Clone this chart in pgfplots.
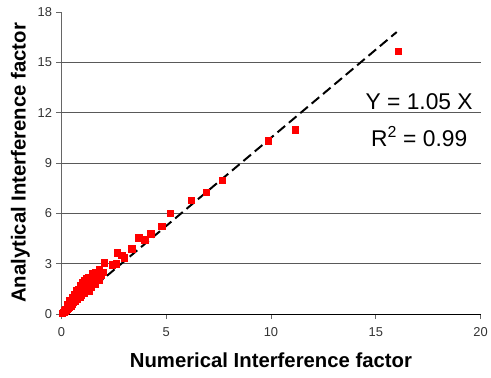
\documentclass[border=0pt]{standalone}
\usepackage{pgfplots}
\pgfplotsset{compat=1.18}
\usepackage{fontspec}
\setmainfont{Liberation Sans}
\begin{document}
\begin{tikzpicture}
\begin{axis}[
  scale only axis,
  width=423pt, height=305pt,
  xmin=0, xmax=20, ymin=0, ymax=18,
  xtick={0,5,...,20}, ytick={0,3,...,18},
  axis x line=bottom, axis y line=left,
  x axis line style={-, black, line width=0.9pt},
  y axis line style={-, gray!80!black, line width=0.9pt},
  tick align=outside,
  major tick length=5pt,
  tick style={gray!80!black, line width=0.7pt},
  /pgf/number format/assume math mode=true,
  ticklabel style={font=\fontsize{13}{15}\selectfont, text=black!80},
  xticklabel style={yshift=-5pt},
  yticklabel style={xshift=-1pt},
  extra y ticks={3,6,9,12,15},
  extra y tick labels={},
  extra y tick style={grid=major, major tick length=0pt},
  grid style={gray!70!black, line width=0.8pt},
  xlabel={\bfseries Numerical Interference factor},
  ylabel={\bfseries Analytical Interference factor},
  label style={font=\fontsize{20.5}{22}\selectfont\bfseries},
  xlabel style={yshift=-9pt},
  ylabel style={yshift=-4pt},
  clip=false,
]
\coordinate (ll) at (rel axis cs:0,0);
\coordinate (ur) at (rel axis cs:1,1);
\addplot[black, line width=2pt, dash pattern=on 10pt off 5pt] coordinates {(0,0) (16,16.8)};
\addplot[only marks, mark=square*, mark size=3.2pt, color=red, mark options={fill=red, draw=red}] coordinates {
(0.05,0.05) (0.1,0.12) (0.12,0.1) (0.15,0.2) (0.2,0.22) (0.25,0.3) (0.3,0.35) (0.35,0.4)
(0.4,0.48) (0.45,0.5) (0.5,0.6) (0.55,0.7) (0.6,0.75) (0.65,0.8) (0.7,0.95) (0.75,0.9)
(0.8,1.0) (0.85,1.1) (0.9,1.2) (0.95,1.15) (1.0,1.3) (1.05,1.4) (1.1,1.5) (1.15,1.6)
(1.2,1.7) (1.25,1.55) (1.3,1.8) (1.35,1.9) (1.4,2.0) (1.5,2.1) (1.55,2.0) (1.6,2.3)
(1.7,2.5) (1.8,2.4) (1.9,2.3) (2.0,2.5) (0.6,1.0) (0.7,1.1) (0.8,1.3) (0.9,1.45)
(1.0,1.6) (1.1,1.75) (1.2,1.9) (0.4,0.6) (0.5,0.8) (0.3,0.5) (0.2,0.3) (1.3,1.4)
(1.1,1.25) (0.9,1.0)
(0.3,0.6) (0.5,1.0) (0.6,1.2) (0.7,1.4) (0.8,1.5) (0.9,1.7) (1.0,1.9) (1.1,2.0)
(1.2,2.1) (1.3,2.2) (1.5,2.4) (1.6,2.5) (1.8,2.65) (0.4,0.8) (1.4,1.6) (1.6,1.8) (1.8,2.0)
(2.03,3.07) (2.41,2.95) (2.6,3.0) (2.65,3.66) (2.88,3.5) (2.98,3.36) (3.36,3.9)
(3.69,4.55) (3.97,4.43) (4.26,4.78) (4.78,5.25) (5.2,6.0) (6.19,6.79) (6.9,7.26)
(7.66,7.97) (9.88,10.33) (11.16,10.98) (16.08,15.64)
};
\node[font=\fontsize{23}{25}\selectfont] at (axis cs:17.07,12.63) {Y = 1.05 X};
\node[font=\fontsize{23}{25}\selectfont] at (axis cs:17.07,10.6) {R$^{\mathrm{2}}$ = 0.99};
\end{axis}
\path ([shift={(-62pt,-64pt)}]ll) rectangle ([shift={(8pt,12pt)}]ur);
\end{tikzpicture}
\end{document}
